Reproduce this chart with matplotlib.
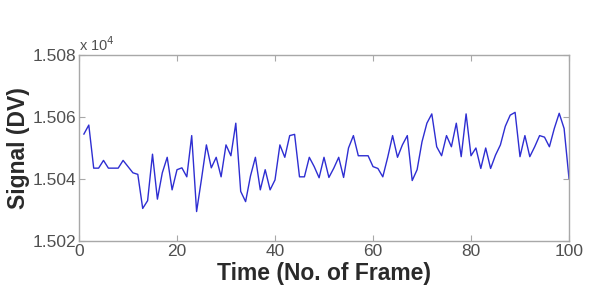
import numpy as np
import matplotlib
matplotlib.use("Agg")
import matplotlib.pyplot as plt

frames = list(range(1, 101))
signal_dv = [
    15054.5, 15057.4, 15043.5, 15043.5, 15046.0, 15043.5, 15043.5, 15043.5, 15046.0, 15044.0,
    15042.0, 15041.5, 15030.5, 15033.0, 15048.0, 15033.5, 15042.0, 15047.0, 15036.5, 15043.0,
    15043.6, 15040.7, 15054.0, 15029.5, 15040.0, 15051.0, 15043.6, 15047.0, 15040.7, 15051.0,
    15047.5, 15058.0, 15036.0, 15032.7, 15041.0, 15047.0, 15036.5, 15043.0, 15036.5, 15039.7,
    15051.0, 15047.0, 15054.0, 15054.4, 15040.7, 15040.7, 15047.0, 15044.0, 15040.4, 15047.0,
    15040.5, 15043.5, 15047.0, 15040.5, 15050.0, 15054.0, 15047.5, 15047.5, 15047.5, 15044.0,
    15043.4, 15040.7, 15047.0, 15054.0, 15047.0, 15051.0, 15054.0, 15039.5, 15043.0, 15052.0,
    15058.0, 15061.0, 15050.4, 15047.5, 15054.0, 15050.4, 15058.0, 15047.2, 15061.0, 15047.5,
    15050.0, 15043.4, 15050.0, 15043.4, 15047.7, 15051.0, 15057.0, 15060.6, 15061.5, 15047.2,
    15054.0, 15047.2, 15050.4, 15054.0, 15053.5, 15050.4, 15056.3, 15061.2, 15056.3, 15040.2,
]
x_ticks = [0, 20, 40, 60, 80, 100]
y_ticks = [1.502, 1.504, 1.506, 1.508]
y_tick_labels = ["1.502", "1.504", "1.506", "1.508"]

plt.rcParams['font.family'] = ['Liberation Sans', 'DejaVu Sans']

fig = plt.figure(figsize=(5.92, 3.05), dpi=100)
ax = fig.add_axes([79/592, 1-241/305, (569-79)/592, (241-55)/305])

ax.plot(frames, np.array(signal_dv) / 1e4, color='#2e2ed2', lw=1.0)

ax.set_xlim(0, 100)
ax.set_ylim(1.502, 1.508)
ax.set_xticks(x_ticks)
ax.set_yticks(y_ticks)
ax.set_yticklabels(y_tick_labels)

for s in ax.spines.values():
    s.set_color('#a8a8a8')
    s.set_linewidth(1.0)
ax.tick_params(direction='in', length=4, width=0.8, color='#a8a8a8',
               labelcolor='#505050', labelsize=12.5, top=True, right=True, pad=2)

ax.text(0.0, 1.005, r'x 10$^{4}$', transform=ax.transAxes, fontsize=10.5,
        color='#505050', ha='left', va='bottom')

ax.set_xlabel('Time (No. of Frame)', fontsize=16.5, fontweight='bold', color='#2a2a2a', labelpad=2)
ax.set_ylabel('Signal (DV)', fontsize=16.5, fontweight='bold', color='#2a2a2a', labelpad=2)

fig.savefig('out.png', dpi=100)
